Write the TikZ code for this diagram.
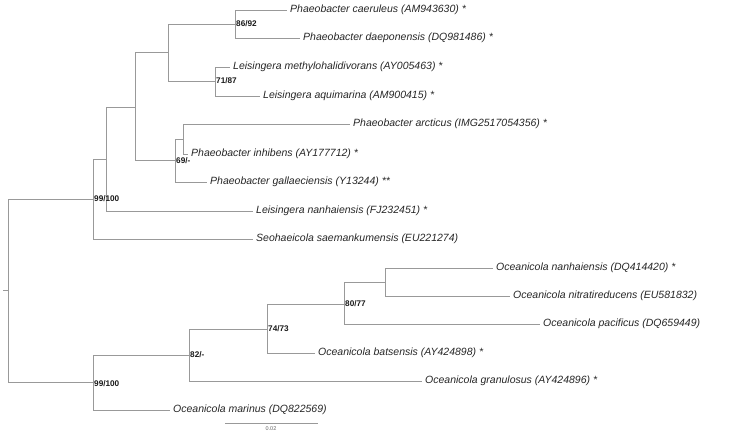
\documentclass[tikz,border=0pt]{standalone}
\usepackage{fontspec}
\setmainfont{Liberation Sans}
\begin{document}
\begin{tikzpicture}[x=1pt,y=-1pt,
  br/.style={draw=black!40,line width=0.75pt},
  leaf/.style={anchor=west,inner xsep=3pt,inner ysep=0pt,font=\fontsize{10.5}{12}\selectfont\itshape,text=black!85},
  sup/.style={anchor=west,inner xsep=1pt,inner ysep=0pt,font=\fontsize{8.2}{9}\selectfont\bfseries,text=black!90},
  pt/.style={coordinate}]
\useasboundingbox (0,0) rectangle (750,434);
% internal nodes
\coordinate (R0) at (3,290);
\coordinate (R) at (8,290);
\coordinate (A) at (93,199);
\coordinate (Ap) at (106,159);
\coordinate (B) at (135,107);
\coordinate (C) at (168,52);
\coordinate (E) at (235,24);
\coordinate (F) at (215,81);
\coordinate (D) at (175,160);
\coordinate (G) at (183,139);
\coordinate (H) at (93,382);
\coordinate (I) at (189,355);
\coordinate (J) at (267,329);
\coordinate (K) at (344,304);
\coordinate (L) at (385,282);
% leaves
\node[leaf] (PC) at (287,10) {Phaeobacter caeruleus (AM943630) *};
\node[leaf] (PD) at (300,38) {Phaeobacter daeponensis (DQ981486) *};
\node[leaf] (LM) at (230,67) {Leisingera methylohalidivorans (AY005463) *};
\node[leaf] (LA) at (260,96) {Leisingera aquimarina (AM900415) *};
\node[leaf] (PA) at (350,124) {Phaeobacter arcticus (IMG2517054356) *};
\node[leaf] (PI) at (188,154) {Phaeobacter inhibens (AY177712) *};
\node[leaf] (PG) at (207,182) {Phaeobacter gallaeciensis (Y13244) **};
\node[leaf] (LN) at (253,211) {Leisingera nanhaiensis (FJ232451) *};
\node[leaf] (SS) at (253,239) {Seohaeicola saemankumensis (EU221274)};
\node[leaf] (ON) at (493,268) {Oceanicola nanhaiensis (DQ414420) *};
\node[leaf] (ONI) at (510,296) {Oceanicola nitratireducens (EU581832)};
\node[leaf] (OP) at (540,324) {Oceanicola pacificus (DQ659449)};
\node[leaf] (OB) at (315,353) {Oceanicola batsensis (AY424898) *};
\node[leaf] (OG) at (422,381) {Oceanicola granulosus (AY424896) *};
\node[leaf] (OM) at (170,410) {Oceanicola marinus (DQ822569)};
% branches
\draw[br] (R0) -- (R);
\draw[br] (R) |- (A);
\draw[br] (R) |- (H);
\draw[br] (A) |- (Ap);
\draw[br] (A) |- (SS.west);
\draw[br] (Ap) |- (B);
\draw[br] (Ap) |- (LN.west);
\draw[br] (B) |- (C);
\draw[br] (B) |- (D);
\draw[br] (C) |- (E);
\draw[br] (C) |- (F);
\draw[br] (E) |- (PC.west);
\draw[br] (E) |- (PD.west);
\draw[br] (F) |- (LM.west);
\draw[br] (F) |- (LA.west);
\draw[br] (D) |- (G);
\draw[br] (D) |- (PG.west);
\draw[br] (G) |- (PA.west);
\draw[br] (G) |- (PI.west);
\draw[br] (H) |- (I);
\draw[br] (H) |- (OM.west);
\draw[br] (I) |- (J);
\draw[br] (I) |- (OG.west);
\draw[br] (J) |- (K);
\draw[br] (J) |- (OB.west);
\draw[br] (K) |- (L);
\draw[br] (K) |- (OP.west);
\draw[br] (L) |- (ON.west);
\draw[br] (L) |- (ONI.west);
% support values
\node[sup] (sA) at (93,199) {99/100};
\node[sup] (sE) at (235,24) {86/92};
\node[sup] (sF) at (215,81) {71/87};
\node[sup] (sD) at (175,161) {69/-};
\node[sup] (sH) at (93,384) {99/100};
\node[sup] (sI) at (189,355) {82/-};
\node[sup] (sJ) at (267,329) {74/73};
\node[sup] (sK) at (344,304) {80/77};
% scale bar
\coordinate (S1) at (225,423);
\coordinate (S2) at (318,423);
\draw[br] (S1) -- (S2);
\node[font=\fontsize{5.5}{6}\selectfont,text=black!60,inner sep=0pt] (SL) at (271,429) {0.02};
\end{tikzpicture}
\end{document}
